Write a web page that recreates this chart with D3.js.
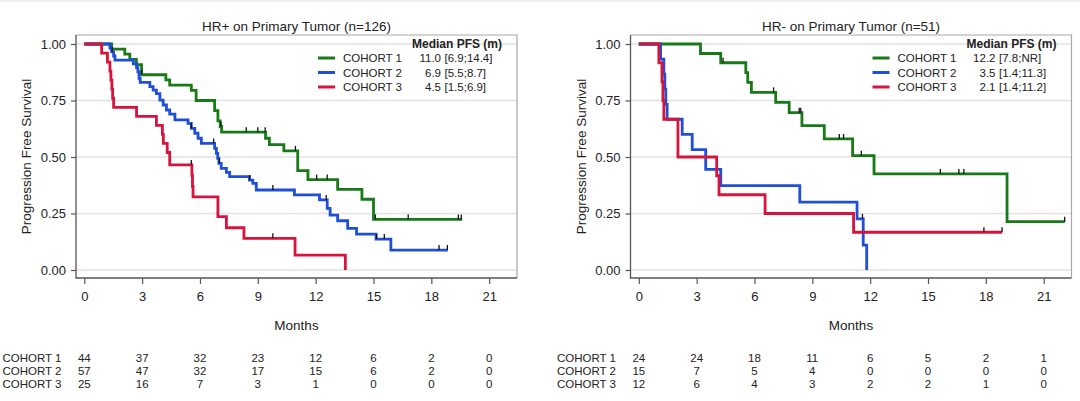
<!DOCTYPE html>
<html>
<head>
<meta charset="utf-8">
<script src="https://cdn.jsdelivr.net/npm/d3@7"></script>
<style>
body { margin: 0; background: #fff; }
svg { display: block; }
text { font-family: "Liberation Sans", Arial, sans-serif; fill: #222; }
</style>
</head>
<body>
<svg width="1080" height="401"></svg>
<script>
var months = [0, 3, 6, 9, 12, 15, 18, 21];
var survTicks = [0, 0.25, 0.5, 0.75, 1];
var cohorts = ["COHORT 1", "COHORT 2", "COHORT 3"];
var colors = ["#177a17", "#1f4fd6", "#d8143c"];

// HR+ panel
var hrpTitle = "HR+ on Primary Tumor (n=126)";
var hrpMedian = ["11.0", "6.9", "4.5"];
var hrpCI = ["[6.9;14.4]", "[5.5;8.7]", "[1.5;6.9]"];

var hrpC1Time = [0, 1.42, 2.1, 2.36, 2.7, 2.97, 4.23, 4.43, 5.55, 5.8, 6.76, 6.93, 7.05, 7.12, 9.4, 9.6, 10.35, 11.07, 11.6, 13.14, 14.4, 15.0];
var hrpC1Surv = [1, 0.977, 0.955, 0.932, 0.909, 0.864, 0.841, 0.818, 0.795, 0.75, 0.705, 0.66, 0.635, 0.61, 0.583, 0.555, 0.527, 0.44, 0.40, 0.357, 0.313, 0.224];
var hrpC1End = 19.6;
var hrpC1Cens = [2.97, 7.08, 8.4, 9.0, 9.38, 10.95, 12.05, 12.6, 15.1, 16.8, 19.4, 19.55];

var hrpC2Time = [0, 1.33, 1.42, 1.52, 1.59, 2.54, 2.71, 2.78, 2.84, 2.9, 3.4, 3.57, 3.74, 3.92, 4.09, 4.26, 4.43, 4.7, 5.38, 5.55, 5.73, 5.9, 6.07, 6.76, 6.85, 6.92, 6.98, 7.1, 7.37, 7.54, 8.57, 8.74, 8.92, 10.9, 12.2, 12.6, 12.75, 13.14, 13.66, 14.12, 15.13, 15.9];
var hrpC2Surv = [1, 0.982, 0.965, 0.947, 0.929, 0.912, 0.895, 0.877, 0.848, 0.83, 0.811, 0.796, 0.78, 0.752, 0.73, 0.708, 0.69, 0.664, 0.649, 0.627, 0.605, 0.583, 0.56, 0.538, 0.516, 0.494, 0.472, 0.45, 0.432, 0.413, 0.398, 0.383, 0.354, 0.332, 0.31, 0.273, 0.243, 0.218, 0.184, 0.159, 0.137, 0.088];
var hrpC2End = 18.85;
var hrpC2Cens = [1.45, 5.55, 6.71, 7.0, 8.57, 9.78, 12.55, 15.16, 15.56, 18.4, 18.83];

var hrpC3Time = [0, 0.9, 1.2, 1.33, 1.38, 1.43, 1.47, 1.52, 2.71, 3.74, 4.05, 4.1, 4.3, 4.43, 5.58, 5.61, 5.64, 6.93, 7.37, 8.28, 10.93, 13.54];
var hrpC3Surv = [1, 0.96, 0.92, 0.88, 0.84, 0.80, 0.76, 0.72, 0.68, 0.64, 0.60, 0.56, 0.52, 0.465, 0.42, 0.37, 0.324, 0.236, 0.187, 0.14, 0.066, 0];
var hrpC3End = 13.54;
var hrpC3Cens = [5.55, 9.78];

var hrpRisk1 = [44, 37, 32, 23, 12, 6, 2, 0];
var hrpRisk2 = [57, 47, 32, 17, 15, 6, 2, 0];
var hrpRisk3 = [25, 16, 7, 3, 1, 0, 0, 0];

// HR- panel
var hrnTitle = "HR- on Primary Tumor (n=51)";
var hrnMedian = ["12.2", "3.5", "2.1"];
var hrnCI = ["[7.8;NR]", "[1.4;11.3]", "[1.4;11.2]"];

var hrnC1Time = [0, 3.2, 4.25, 5.55, 5.65, 5.84, 7.1, 7.8, 8.46, 9.62, 11.09, 12.2, 19.1];
var hrnC1Surv = [1, 0.958, 0.917, 0.873, 0.83, 0.786, 0.742, 0.696, 0.639, 0.58, 0.506, 0.425, 0.214];
var hrnC1End = 22.09;
var hrnC1Cens = [4.37, 6.99, 8.32, 8.4, 10.4, 10.62, 11.54, 15.64, 16.6, 16.86, 22.09];

var hrnC2Time = [0, 1.13, 1.3, 1.35, 1.4, 1.47, 2.25, 2.77, 3.47, 4.25, 8.35, 11.32, 11.64, 11.82];
var hrnC2Surv = [1, 0.933, 0.867, 0.8, 0.733, 0.667, 0.6, 0.533, 0.445, 0.373, 0.3, 0.226, 0.11, 0];
var hrnC2End = 11.82;
var hrnC2Cens = [11.6];

var hrnC3Time = [0, 1.04, 1.2, 1.25, 1.3, 2.03, 4.04, 4.16, 6.55, 11.14];
var hrnC3Surv = [1, 0.917, 0.833, 0.75, 0.667, 0.5, 0.417, 0.333, 0.25, 0.167];
var hrnC3End = 18.84;
var hrnC3Cens = [17.9, 18.84];

var hrnRisk1 = [24, 24, 18, 11, 6, 5, 2, 1];
var hrnRisk2 = [15, 7, 5, 4, 0, 0, 0, 0];
var hrnRisk3 = [12, 6, 4, 3, 2, 2, 1, 0];

var svg = d3.select("svg");

svg.append("rect").attr("x", 0).attr("y", 0).attr("width", 1080).attr("height", 2).attr("fill", "#eceef3");

function drawPanel(left, title, curves, medians, cis, risks) {
	var top = 35, bottom = 278, right = left + 441;
	var x = d3.scaleLinear().domain([0, 21]).range([left + 8.3, left + 8.3 + 21 * 19.28]);
	var y = d3.scaleLinear().domain([0, 1]).range([270, 44]);
	var g = svg.append("g");

	g.append("g").selectAll("line")
		.data(survTicks)
		.enter().append("line")
		.attr("x1", left).attr("x2", right)
		.attr("y1", d => y(d)).attr("y2", d => y(d))
		.attr("stroke", "#e2e2e2").attr("stroke-width", 1.3);

	g.append("path")
		.attr("d", "M" + left + "," + top + "H" + right + "V" + bottom)
		.attr("fill", "none").attr("stroke", "#a8a8a8").attr("stroke-width", 1.2);

	var yAxis = g.append("g")
		.attr("transform", "translate(" + left + ",0)")
		.call(d3.axisLeft(y).tickValues(survTicks).tickFormat(d3.format(".2f")).tickSize(5).tickPadding(5));
	var xAxis = g.append("g")
		.attr("transform", "translate(0," + bottom + ")")
		.call(d3.axisBottom(x).tickValues(months).tickSize(6).tickPadding(7.5));
	[yAxis, xAxis].forEach(a => {
		a.select(".domain").remove();
		a.selectAll("line").attr("stroke", "#555").attr("stroke-width", 1.2);
		a.selectAll("text").attr("font-size", 13).attr("fill", "#222")
			.style("font-family", "'Liberation Sans', Arial, sans-serif");
	});

	g.append("path")
		.attr("d", "M" + left + "," + top + "V" + bottom + "H" + right)
		.attr("fill", "none").attr("stroke", "#555").attr("stroke-width", 1.3);

	var line = d3.line()
		.x(d => x(d[0]))
		.y(d => y(d[1]))
		.curve(d3.curveStepAfter);

	curves.forEach((c, i) => {
		var pts = c.time.map((t, k) => [t, c.surv[k]]);
		pts.push([c.end, c.surv[c.surv.length - 1]]);
		g.append("path")
			.datum(pts)
			.attr("d", line)
			.attr("fill", "none")
			.attr("stroke", colors[i])
			.attr("stroke-width", 2.8);
	});

	curves.forEach((c, i) => {
		g.append("g").selectAll("line")
			.data(c.cens)
			.enter().append("line")
			.attr("x1", d => x(d)).attr("x2", d => x(d))
			.attr("y1", d => y(c.surv[d3.bisectRight(c.time, d) - 1]) - 5)
			.attr("y2", d => y(c.surv[d3.bisectRight(c.time, d) - 1]))
			.attr("stroke", "#111").attr("stroke-width", 1.3);
	});

	// legend
	g.append("text")
		.attr("x", left + 336).attr("y", 48)
		.attr("font-size", 12).attr("font-weight", "bold")
		.text("Median PFS (m)");
	cohorts.forEach((name, i) => {
		var ly = 58 + i * 14.5;
		g.append("line")
			.attr("x1", left + 242).attr("x2", left + 259)
			.attr("y1", ly).attr("y2", ly)
			.attr("stroke", colors[i]).attr("stroke-width", 3);
		g.append("text").attr("x", left + 267).attr("y", ly + 4.2)
			.attr("font-size", 11.5).attr("fill", "#333").text(name);
		g.append("text").attr("x", left + 365).attr("y", ly + 4.2)
			.attr("font-size", 11.5).attr("fill", "#333").attr("text-anchor", "end").text(medians[i]);
		g.append("text").attr("x", left + 368.5).attr("y", ly + 4.2)
			.attr("font-size", 11.5).attr("fill", "#333").text(cis[i]);
	});

	g.append("text")
		.attr("x", (left + right) / 2).attr("y", 30.5)
		.attr("text-anchor", "middle").attr("font-size", 13.5).attr("fill", "#333")
		.text(title);

	g.append("text")
		.attr("x", (left + right) / 2).attr("y", 330.3)
		.attr("text-anchor", "middle").attr("font-size", 13.5).attr("fill", "#333")
		.text("Months");

	g.append("text")
		.attr("transform", "translate(" + (left - 45) + "," + ((top + bottom) / 2) + ") rotate(-90)")
		.attr("text-anchor", "middle").attr("font-size", 13.5).attr("fill", "#333")
		.text("Progression Free Survival");

	// number at risk
	risks.forEach((row, i) => {
		var ry = 361.8 + i * 13.3;
		g.append("text").attr("x", left - 73.5).attr("y", ry)
			.attr("font-size", 11.5).attr("fill", "#333").text(cohorts[i]);
		g.append("g").selectAll("text")
			.data(row)
			.enter().append("text")
			.attr("x", (d, k) => x(months[k]))
			.attr("y", ry)
			.attr("text-anchor", "middle")
			.attr("font-size", 11.5).attr("fill", "#333")
			.text(d => d);
	});
}

drawPanel(76, hrpTitle, [
	{ time: hrpC1Time, surv: hrpC1Surv, end: hrpC1End, cens: hrpC1Cens },
	{ time: hrpC2Time, surv: hrpC2Surv, end: hrpC2End, cens: hrpC2Cens },
	{ time: hrpC3Time, surv: hrpC3Surv, end: hrpC3End, cens: hrpC3Cens }
], hrpMedian, hrpCI, [hrpRisk1, hrpRisk2, hrpRisk3]);

drawPanel(630.5, hrnTitle, [
	{ time: hrnC1Time, surv: hrnC1Surv, end: hrnC1End, cens: hrnC1Cens },
	{ time: hrnC2Time, surv: hrnC2Surv, end: hrnC2End, cens: hrnC2Cens },
	{ time: hrnC3Time, surv: hrnC3Surv, end: hrnC3End, cens: hrnC3Cens }
], hrnMedian, hrnCI, [hrnRisk1, hrnRisk2, hrnRisk3]);
</script>
</body>
</html>
